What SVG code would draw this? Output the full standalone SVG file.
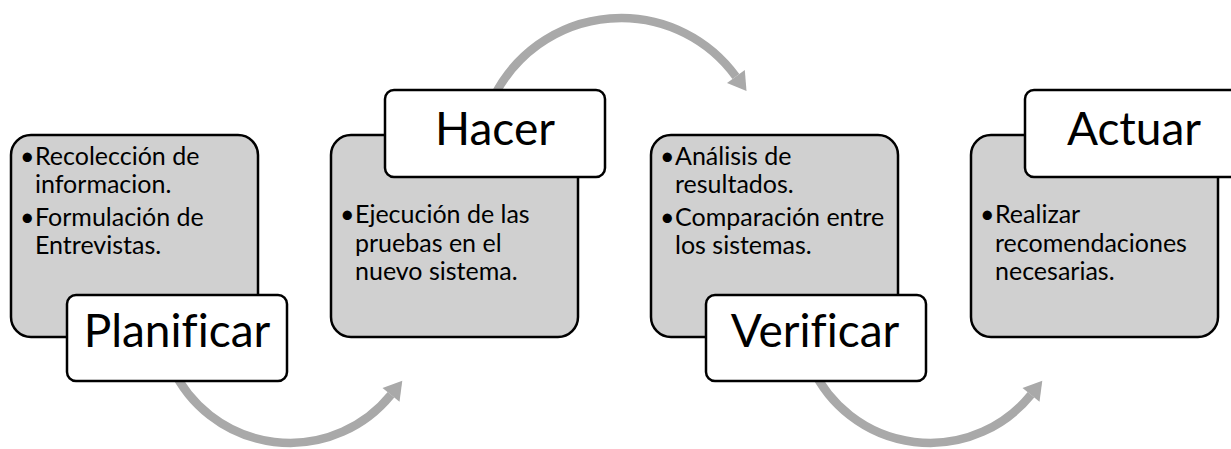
<svg xmlns="http://www.w3.org/2000/svg" width="1231" height="449" viewBox="0 0 1231 449">
<style>
.card{fill:#d0d0d0;stroke:#000;stroke-width:2.5}
.title{fill:#fff;stroke:#000;stroke-width:2.5}
.arc{fill:none;stroke:#a9a9a9;stroke-width:8.5}
.head{fill:#a9a9a9;stroke:none}
.t{font-family:Lato,"Liberation Sans",sans-serif;font-size:46px;fill:#000;text-anchor:middle;font-variant-ligatures:none}
.b{font-family:Lato,"Liberation Sans",sans-serif;font-size:25px;fill:#000;font-variant-ligatures:none}
</style>
<rect width="1231" height="449" fill="#fff"/>
<g id="card-planificar"><rect class="card" x="11" y="135" width="247" height="202" rx="20"/>
<text class="b" x="20" y="165">•</text><text class="b" x="35" y="165">Recolección de</text><text class="b" x="35" y="193">informacion.</text>
<text class="b" x="20" y="226">•</text><text class="b" x="35" y="226">Formulación de</text><text class="b" x="35" y="254">Entrevistas.</text></g>
<g id="card-hacer"><rect class="card" x="331" y="135" width="247" height="202" rx="20"/>
<text class="b" x="340" y="223">•</text><text class="b" x="355" y="223">Ejecución de las</text><text class="b" x="355" y="252">pruebas en el</text><text class="b" x="355" y="280">nuevo sistema.</text></g>
<g id="card-verificar"><rect class="card" x="651" y="135" width="247" height="202" rx="20"/>
<text class="b" x="660" y="165">•</text><text class="b" x="675" y="165">Análisis de</text><text class="b" x="675" y="193">resultados.</text>
<text class="b" x="660" y="226">•</text><text class="b" x="675" y="226">Comparación entre</text><text class="b" x="675" y="254">los sistemas.</text></g>
<g id="card-actuar"><rect class="card" x="971" y="135" width="247" height="202" rx="20"/>
<text class="b" x="980" y="223">•</text><text class="b" x="995" y="223">Realizar</text><text class="b" x="995" y="252">recomendaciones</text><text class="b" x="995" y="280">necesarias.</text></g>
<g id="connectors">
<path class="arc" d="M172.2,367.9 A130,130 0 0 0 391.0,394.8"/>
<polygon class="head" points="402.3,380.8 399.5,401.7 382.5,387.9"/>
<path class="arc" d="M494.5,95.5 A142,142 0 0 1 735.9,76.5"/>
<polygon class="head" points="746.5,91.1 744.8,70.0 727.0,83.0"/>
<path class="arc" d="M812.2,367.9 A130,130 0 0 0 1031.0,394.8"/>
<polygon class="head" points="1042.3,380.8 1039.5,401.7 1022.5,387.9"/>
</g>
<g id="title-planificar"><rect class="title" x="67" y="295" width="220" height="86" rx="9"/><text class="t" x="177" y="347">Planificar</text></g>
<g id="title-hacer"><rect class="title" x="385" y="90" width="220" height="87" rx="9"/><text class="t" x="495" y="145">Hacer</text></g>
<g id="title-verificar"><rect class="title" x="706" y="295" width="220" height="86" rx="9"/><text class="t" x="815" y="347">Verificar</text></g>
<g id="title-actuar"><rect class="title" x="1025" y="90" width="220" height="87" rx="9"/><text class="t" x="1134" y="145">Actuar</text></g>
</svg>
